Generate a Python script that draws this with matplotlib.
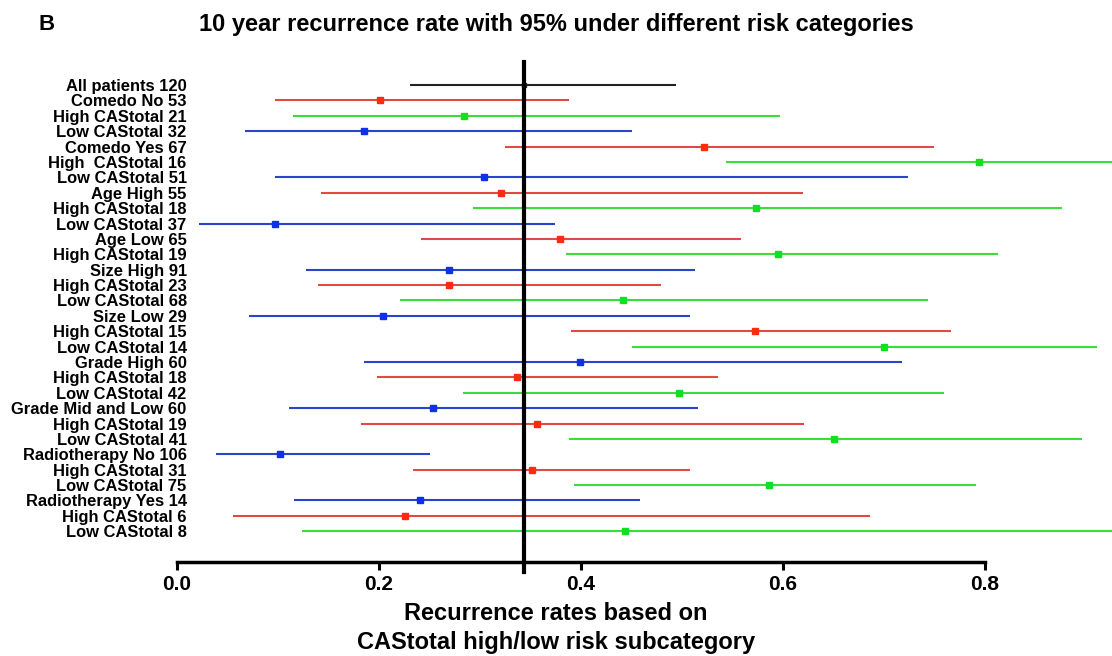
import matplotlib
matplotlib.use("Agg")
import matplotlib.pyplot as plt

labels = ["All patients 120", "Comedo No 53", "High CAStotal 21", "Low CAStotal 32",
          "Comedo Yes 67", "High  CAStotal 16", "Low CAStotal 51", "Age High 55",
          "High CAStotal 18", "Low CAStotal 37", "Age Low 65", "High CAStotal 19",
          "Size High 91", "High CAStotal 23", "Low CAStotal 68", "Size Low 29",
          "High CAStotal 15", "Low CAStotal 14", "Grade High 60", "High CAStotal 18",
          "Low CAStotal 42", "Grade Mid and Low 60", "High CAStotal 19", "Low CAStotal 41",
          "Radiotherapy No 106", "High CAStotal 31", "Low CAStotal 75", "Radiotherapy Yes 14",
          "High CAStotal 6", "Low CAStotal 8"]
estimate = [0.344, 0.201, 0.284, 0.185, 0.522, 0.794, 0.304, 0.321, 0.573, 0.097,
            0.379, 0.595, 0.269, 0.269, 0.442, 0.204, 0.572, 0.700, 0.399, 0.337,
            0.497, 0.254, 0.357, 0.651, 0.102, 0.352, 0.586, 0.241, 0.226, 0.444]
lower = [0.231, 0.097, 0.115, 0.067, 0.325, 0.544, 0.097, 0.143, 0.293, 0.022,
         0.242, 0.385, 0.128, 0.140, 0.221, 0.071, 0.390, 0.451, 0.185, 0.198,
         0.283, 0.111, 0.182, 0.388, 0.039, 0.234, 0.393, 0.116, 0.055, 0.124]
upper = [0.494, 0.388, 0.597, 0.451, 0.750, 0.960, 0.724, 0.620, 0.876, 0.374,
         0.559, 0.813, 0.513, 0.479, 0.744, 0.508, 0.767, 0.911, 0.718, 0.536,
         0.760, 0.516, 0.621, 0.896, 0.251, 0.508, 0.791, 0.459, 0.686, 0.960]
row_kind = ["all",
            "red", "green", "blue",
            "red", "green", "blue",
            "red", "green", "blue",
            "red", "green", "blue",
            "red", "green", "blue",
            "red", "green", "blue",
            "red", "green", "blue",
            "red", "green", "blue",
            "red", "green", "blue",
            "red", "green"]
overall_rate = 0.344
xticks = [0.0, 0.2, 0.4, 0.6, 0.8]

line_colors = {"all": "#222222", "red": "#e04a44", "green": "#3ddc3d", "blue": "#2a44cc"}
mark_colors = {"all": "#222222", "red": "#ff2a10", "green": "#10e020", "blue": "#1030e8"}

plt.rcParams['font.family'] = ['Liberation Sans', 'DejaVu Sans']
fig = plt.figure(figsize=(11.12, 6.56), dpi=100)
ax = fig.add_axes([177/1112, 1 - 562/656, 1 - 177/1112, (562 - 62)/656])

for i, (lab, est, lo, hi, k) in enumerate(zip(labels, estimate, lower, upper, row_kind)):
    ax.plot([lo, hi], [i, i], color=line_colors[k], lw=1.5, solid_capstyle='butt', zorder=2)
    ms = 3.5 if k == "all" else 5
    ax.plot([est], [i], marker='s', ms=ms, color=mark_colors[k], mec=mark_colors[k], zorder=3)

ax.axvline(overall_rate, ymin=-0.02, ymax=1, color='black', lw=3, clip_on=False, zorder=4)

ax.set_xlim(0, 0.926)
ax.set_ylim(31.0, -1.5)
ax.set_yticks(range(len(labels)))
ax.set_yticklabels(labels, fontsize=11.9, fontweight='bold')
ax.tick_params(axis='y', length=0, pad=-7)
ax.set_xticks(xticks)
ax.set_xticklabels([f"{t:.1f}" for t in xticks], fontsize=15, fontweight='bold')
ax.tick_params(axis='x', direction='out', length=6, width=2.2, pad=3)
for s in ['top', 'right', 'left']:
    ax.spines[s].set_visible(False)
ax.spines['bottom'].set_linewidth(2.5)
ax.spines['bottom'].set_bounds(0, 0.8)

fig.text(0.5, 1 - 25/656, "10 year recurrence rate with 95% under different risk categories",
         ha='center', va='center', fontsize=17, fontweight='bold')
fig.text(38/1112, 1 - 25/656, "B", ha='left', va='center', fontsize=16, fontweight='bold')
fig.text(0.5, 1 - 613/656, "Recurrence rates based on", ha='center', va='center',
         fontsize=17, fontweight='bold')
fig.text(0.5, 1 - 642/656, "CAStotal high/low risk subcategory", ha='center', va='center',
         fontsize=17, fontweight='bold')

fig.savefig("out.png", dpi=100)
